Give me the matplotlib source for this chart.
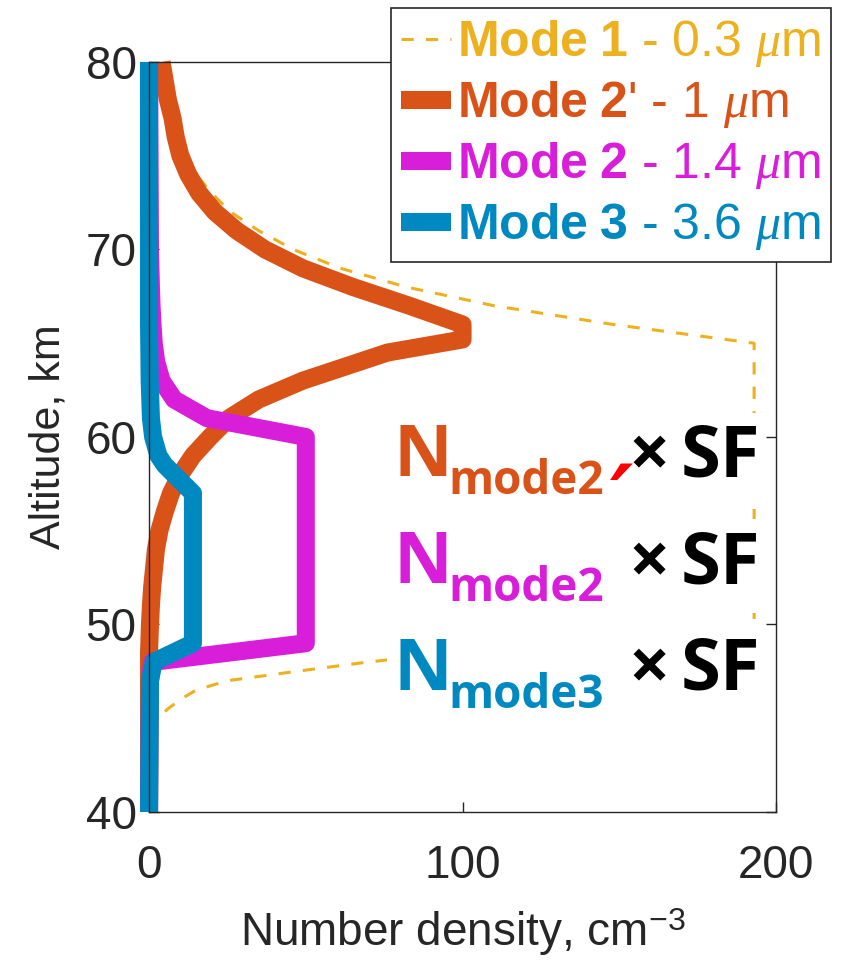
import matplotlib
matplotlib.use("Agg")
import matplotlib.pyplot as plt
from matplotlib.patches import Rectangle

plt.rcParams['font.family'] = ['Liberation Sans', 'DejaVu Sans']
plt.rcParams['mathtext.fontset'] = 'custom'
plt.rcParams['mathtext.rm'] = 'Liberation Sans'
plt.rcParams['mathtext.bf'] = 'Liberation Sans:bold'
plt.rcParams['mathtext.it'] = 'Liberation Serif:italic'

# ---- data (number density cm^-3 vs altitude km) ----
alt_m1 = [80, 78, 76, 75, 74, 73, 72, 71, 70, 69, 68, 67, 66, 65, 49.7, 49, 48,
          47.5, 47, 46.5, 46, 45.5, 45, 44.5, 44, 40]
n_m1 = [4.5, 6.5, 9, 11.5, 15, 20, 26, 35, 46, 61, 82, 110, 148, 193, 193, 125, 70,
        47, 25, 15, 10, 6, 3, 1, 0, 0]

alt_m2p = [80, 79, 78, 77, 76, 75, 74, 73, 72, 71, 70, 69, 68, 67, 66, 65.2, 64.5, 64,
           63, 62, 61, 60, 59, 58, 57, 56, 55, 54, 53, 52, 51, 50, 49, 48.5, 40]
n_m2p = [4, 5, 6, 7.5, 8.5, 10, 12.5, 16, 21, 28, 37, 49, 65, 83, 100, 100, 76, 67,
         49, 35, 25.5, 19.5, 14, 10, 7, 5, 3.3, 2.2, 1.6, 1.0, 0.6, 0.3, 0.1, 0, 0]

alt_m2 = [80, 70, 68, 67, 66, 65, 64, 63, 62, 61, 60, 49, 48, 47, 40]
n_m2 = [0, 0.3, 0.6, 0.8, 1.1, 1.5, 2.3, 4, 8, 18.5, 50, 50, 1, 0.3, 0]

alt_m3 = [80, 66, 63, 61, 60, 59, 58.5, 57, 49, 48, 47, 40]
n_m3 = [0, 0, 0.2, 0.6, 1.3, 3, 5, 14, 14, 1.5, 0.3, 0]

labels = [r"$\mathbf{Mode\ 1}$ - 0.3 $\mu$m",
          r"$\mathbf{Mode\ 2}$' - 1 $\mu$m",
          r"$\mathbf{Mode\ 2}$ - 1.4 $\mu$m",
          r"$\mathbf{Mode\ 3}$ - 3.6 $\mu$m"]
colors = ['#EDB120', '#D95319', '#D91ED9', '#0089C0']

# annotation rows: subscript, colour, has prime
rows = [("mode2", colors[1], True), ("mode2", colors[2], False), ("mode3", colors[3], False)]

fig = plt.figure(figsize=(8.43, 9.6), dpi=100)
ax = fig.add_axes([0.1768, 0.1542, 0.7438, 0.78125])

thick = dict(lw=13, solid_joinstyle='round', solid_capstyle='butt', clip_on=False)
ax.plot(n_m1, alt_m1, color=colors[0], lw=2.2, dashes=(4, 4), label=labels[0], clip_on=False)
ax.plot(n_m2p, alt_m2p, color=colors[1], label=labels[1], **thick)
ax.plot(n_m2, alt_m2, color=colors[2], label=labels[2], **thick)
ax.plot(n_m3, alt_m3, color=colors[3], label=labels[3], **thick)

ax.set_xlim(0, 200)
ax.set_ylim(40, 80)
ax.set_xticks([0, 100, 200])
ax.set_yticks([40, 50, 60, 70, 80])
ax.tick_params(direction='in', length=7, width=1, top=True, right=True,
               labelsize=33, color='#262626', labelcolor='#262626')
ax.tick_params(axis='x', pad=23)
ax.tick_params(axis='y', pad=9)
for s in ax.spines.values():
    s.set_color('#262626')
    s.set_linewidth(1.0)

ax.set_xlabel(r"Number density, cm$^{-3}$", fontsize=33, color='#262626', labelpad=14)
ax.set_ylabel("Altitude, km", fontsize=31, color='#262626', labelpad=12)

leg = ax.legend(loc='upper right', bbox_to_anchor=(831 / 843, 952 / 960),
                bbox_transform=fig.transFigure, borderaxespad=0, fontsize=36,
                handlelength=1.0, handletextpad=0.12, labelspacing=0.2,
                borderpad=0.2, fancybox=False, framealpha=1,
                edgecolor='#262626', labelcolor='linecolor')
leg.get_frame().set_linewidth(1.2)

txt = dict(fontweight='bold', family=['Open Sans', 'DejaVu Sans'], va='baseline', zorder=4)
for i, (sub, c, prime) in enumerate(rows):
    y0 = 57.9 - i * 5.69
    # white background behind each text row (hides the dashed curve)
    ax.add_patch(Rectangle((76, y0 - 1.6), 119, 5.0, facecolor='white',
                           edgecolor='none', zorder=3))
    ax.text(78.0, y0, "N", color=c, fontsize=52, **txt)
    ax.text(95.5, y0 - 0.95, sub, color=c, fontsize=33, **txt)
    if prime:
        ax.text(147.0, y0 - 2.8, "\u2032", color='red', fontsize=64, fontweight='bold',
                style='italic', family='DejaVu Sans', va='baseline', zorder=4)
    ax.text(153.0, y0, "\u00d7", color='black', fontsize=52, **txt)
    ax.text(169.5, y0, "SF", color='black', fontsize=52, **txt)

fig.savefig("out.png", dpi=100)
